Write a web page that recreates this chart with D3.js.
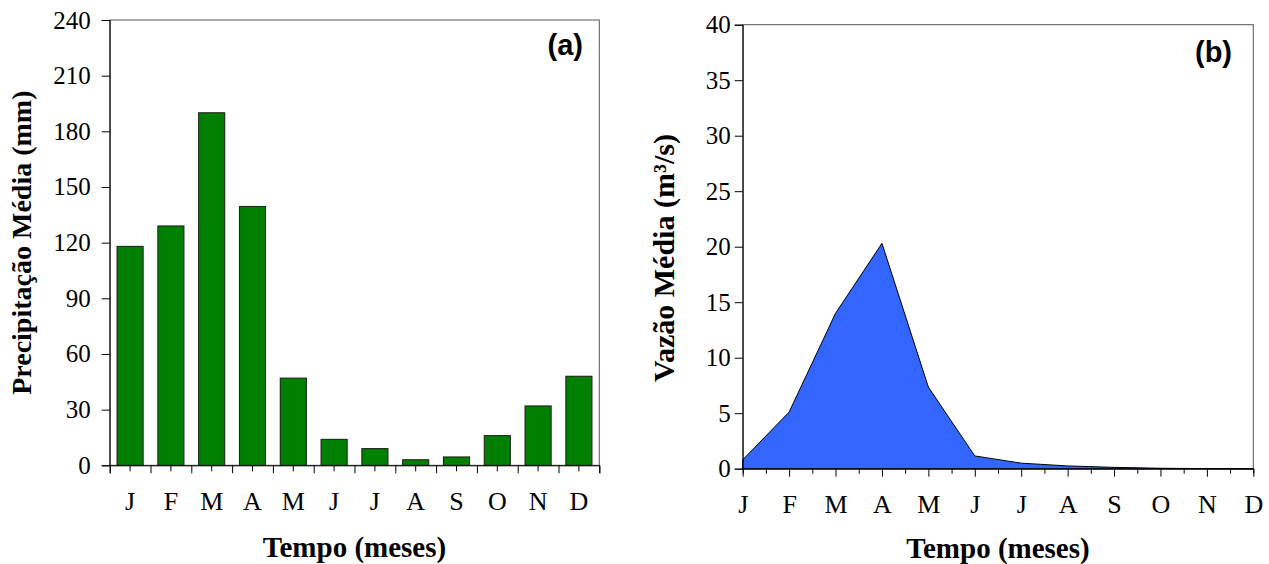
<!DOCTYPE html>
<html>
<head>
<meta charset="utf-8">
<script src="https://cdn.jsdelivr.net/npm/d3@7"></script>
<style>
  html, body { margin: 0; padding: 0; background: #fff; }
  svg { display: block; }
  .tick text { font-family: "Liberation Serif", "Times New Roman", serif; fill: #000; }
  .title { font-family: "Liberation Serif", "Times New Roman", serif; font-weight: bold; fill: #000; }
  .panel { font-family: "Liberation Sans", Arial, sans-serif; font-weight: bold; font-size: 29px; fill: #000; }
</style>
</head>
<body>
<div id="chart"></div>
<script>
// data
const months = ["J", "F", "M", "A", "M", "J", "J", "A", "S", "O", "N", "D"];
const precip = [118, 129, 190, 139.5, 47, 14, 9, 3, 4.5, 16, 32, 48];
const flow = [0.8, 5.1, 14.0, 20.3, 7.35, 1.15, 0.5, 0.25, 0.12, 0.04, 0.01, 0];
const precipTicks = [0, 30, 60, 90, 120, 150, 180, 210, 240];
const flowTicks = [0, 5, 10, 15, 20, 25, 30, 35, 40];

const width = 1269, height = 564;

const svg = d3.select("#chart")
  .append("svg")
  .attr("width", width)
  .attr("height", height);

// ---------- (a) precipitation bars ----------
const a = { left: 109.7, right: 599.3, top: 20, bottom: 465.3 };

const xa = d3.scaleBand()
  .domain(d3.range(12))
  .range([a.left, a.right])
  .paddingInner(0.36)
  .paddingOuter(0.18);

const xaEdge = d3.scaleLinear().domain([0, 12]).range([a.left, a.right]);

const ya = d3.scaleLinear().domain([0, 240]).range([a.bottom, a.top]);

const ga = svg.append("g");

// frame
ga.append("rect")
  .attr("x", a.left).attr("y", a.top)
  .attr("width", a.right - a.left).attr("height", a.bottom - a.top)
  .attr("fill", "none").attr("stroke", "#555").attr("stroke-width", 1);

ga.append("g")
  .selectAll("rect")
  .data(precip)
  .join("rect")
  .attr("x", (d, i) => xa(i))
  .attr("width", xa.bandwidth())
  .attr("y", d => ya(d))
  .attr("height", d => ya(0) - ya(d))
  .attr("fill", "#008000")
  .attr("stroke", "#1a1a1a")
  .attr("stroke-width", 1);

// y axis
ga.append("g")
  .attr("transform", `translate(${a.left},0)`)
  .call(d3.axisLeft(ya).tickValues(precipTicks).tickSize(8).tickPadding(11))
  .call(g => g.selectAll("text").attr("font-size", 25))
  .call(g => g.select(".domain").attr("stroke", "#000"));

// x axis: long ticks on band edges, short ticks on centres
ga.append("g")
  .attr("transform", `translate(0,${a.bottom})`)
  .call(d3.axisBottom(xaEdge).tickValues(d3.range(13)).tickSize(8).tickFormat(""))
  .call(g => g.select(".domain").attr("stroke", "#000"));

ga.append("g")
  .attr("transform", `translate(0,${a.bottom})`)
  .call(d3.axisBottom(xa).tickSize(6).tickFormat(i => months[i]))
  .call(g => g.select(".domain").remove())
  .call(g => g.selectAll("text").attr("font-size", 26).attr("y", 45).attr("dy", 0));

ga.append("text")
  .attr("class", "title")
  .attr("font-size", 29)
  .attr("text-anchor", "middle")
  .attr("x", (a.left + a.right) / 2)
  .attr("y", 556.7)
  .text("Tempo (meses)");

ga.append("text")
  .attr("class", "title")
  .attr("font-size", 28)
  .attr("text-anchor", "middle")
  .attr("transform", `translate(31,${(a.top + a.bottom) / 2}) rotate(-90)`)
  .text("Precipitação Média (mm)");

ga.append("text")
  .attr("class", "panel")
  .attr("text-anchor", "end")
  .attr("x", 583)
  .attr("y", 55)
  .text("(a)");

// ---------- (b) discharge area ----------
const b = { left: 742.7, right: 1253.3, top: 24.7, bottom: 468.7 };

const xb = d3.scaleLinear().domain([0, 11]).range([b.left, b.right]);
const yb = d3.scaleLinear().domain([0, 40]).range([b.bottom, b.top]);

const gb = svg.append("g");

gb.append("rect")
  .attr("x", b.left).attr("y", b.top)
  .attr("width", b.right - b.left).attr("height", b.bottom - b.top)
  .attr("fill", "none").attr("stroke", "#555").attr("stroke-width", 1);

const area = d3.area()
  .x((d, i) => xb(i))
  .y0(yb(0))
  .y1(d => yb(d));

gb.append("path")
  .datum(flow)
  .attr("d", area)
  .attr("fill", "#3366ff")
  .attr("stroke", "#000")
  .attr("stroke-width", 1);

gb.append("g")
  .attr("transform", `translate(${b.left},0)`)
  .call(d3.axisLeft(yb).tickValues(flowTicks).tickSize(8).tickPadding(4))
  .call(g => g.selectAll("text").attr("font-size", 25))
  .call(g => g.select(".domain").attr("stroke", "#000"));

// minor ticks at half months
gb.append("g")
  .attr("transform", `translate(0,${b.bottom})`)
  .call(d3.axisBottom(xb).tickValues(d3.range(0.5, 11, 1)).tickSize(5).tickFormat(""))
  .call(g => g.select(".domain").attr("stroke", "#000"));

gb.append("g")
  .attr("transform", `translate(0,${b.bottom})`)
  .call(d3.axisBottom(xb).tickValues(d3.range(12)).tickSize(8).tickFormat(i => months[i]))
  .call(g => g.select(".domain").remove())
  .call(g => g.selectAll("text").attr("font-size", 26).attr("y", 44.6).attr("dy", 0));

gb.append("text")
  .attr("class", "title")
  .attr("font-size", 29)
  .attr("text-anchor", "middle")
  .attr("x", (b.left + b.right) / 2)
  .attr("y", 558)
  .text("Tempo (meses)");

gb.append("text")
  .attr("class", "title")
  .attr("font-size", 30)
  .attr("text-anchor", "middle")
  .attr("transform", "translate(674,258) rotate(-90)")
  .text("Vazão Média (m³/s)");

gb.append("text")
  .attr("class", "panel")
  .attr("text-anchor", "end")
  .attr("x", 1232)
  .attr("y", 62)
  .text("(b)");
</script>
</body>
</html>
